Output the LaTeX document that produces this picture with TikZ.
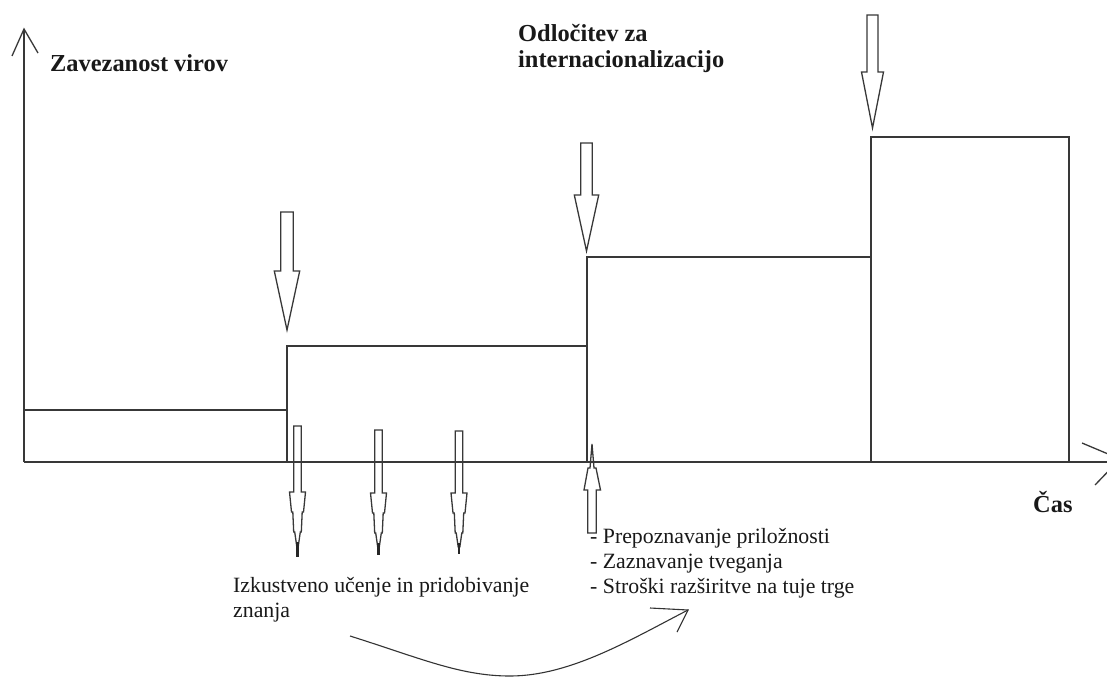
\documentclass[tikz,border=0pt]{standalone}
\usepackage{fontspec}
\setmainfont{Liberation Serif}
% small down arrow with a stepped, tapering head: centre, shaft top, head base, tip
\newcommand\smalldownarrow[4]{%
  \draw[ln] (#1-3.7,#2) -- (#1+3.7,#2) -- (#1+3.7,#3) -- (#1+8,#3)
    -- (#1+6,#3+20) -- (#1+4.7,#3+20) -- (#1+3.8,#3+40) -- (#1+2.8,#3+40)
    -- (#1+0.8,#3+54) -- (#1-0.8,#3+54)
    -- (#1-2.8,#3+40) -- (#1-3.8,#3+40) -- (#1-4.7,#3+20) -- (#1-6,#3+20)
    -- (#1-8,#3) -- (#1-3.7,#3) -- cycle;
  \draw[black!85,line width=2.2pt] (#1,#3+50) -- (#1,#4);}
% large block arrow pointing down: centre, shaft half width, head half width, shaft top, head base, tip
\newcommand\bigdownarrow[6]{%
  \draw[ln] (#1-#2,#4) -- (#1+#2,#4) -- (#1+#2,#5) -- (#1+#3,#5) -- (#1,#6)
    -- (#1-#3,#5) -- (#1-#2,#5) -- cycle;}
\begin{document}
\begin{tikzpicture}[x=1pt,y=-1pt,
  ln/.style={draw=black!78,line width=1.3pt,line join=miter},
  thin/.style={draw=black!80,line width=1.1pt},
  hd/.style={font=\bfseries\fontsize{24.4}{26}\selectfont,text=black!90,inner sep=0pt,anchor=base west,align=left},
  tx/.style={font=\fontsize{21.8}{24.5}\selectfont,text=black!90,inner sep=0pt,anchor=base west,align=left},
]
\clip (0,0) rectangle (1107,677);
\fill[white] (0,0) rectangle (1107,677);

% axes
\coordinate (origin) at (24,462);
\coordinate (ytop) at (24,29);
\coordinate (xend) at (1120,459);
\draw[ln] (origin) -- (ytop);
\draw[ln] (12,56) -- (ytop) -- (38,53);
\draw[ln] (origin) -- (1107,462);
\draw[ln] (1082,443) -- (xend) -- (1095,485);

% resource commitment steps
\draw[ln] (24,410) -- (287,410) -- (287,462);
\draw[ln] (287,462) -- (287,346) -- (587,346);
\draw[ln] (587,462) -- (587,257) -- (871,257);
\draw[ln] (871,462) -- (871,137) -- (1069,137) -- (1069,462);

% large arrows above the steps
\bigdownarrow{287}{6.3}{12.7}{212}{271}{330}
\bigdownarrow{586.5}{5.8}{12.2}{143}{195}{251}
\bigdownarrow{872.5}{5.5}{11}{15}{72}{128}

% learning arrows below the axis
\smalldownarrow{297.5}{426}{492}{557}
\smalldownarrow{378.5}{430}{493}{555}
\smalldownarrow{459}{431}{493}{554}

% upward arrow at the decision point
\draw[ln] (587.8,533) -- (596.2,533) -- (596.2,490) -- (600.5,490) -- (596,468)
  -- (594,468) -- (592,444) -- (590,468) -- (588,468) -- (584,490) -- (587.8,490) -- cycle;

% labels (multi-line nodes are anchored at the baseline of their last line)
\node[hd] (yl) at (50,71) {Zavezanost virov};
\node[hd] (dec) at (518,67) {Odločitev za\\internacionalizacijo};
\node[hd] (xl) at (1033,512) {Čas};
\node[tx] (learn) at (233,617) {Izkustveno učenje in pridobivanje\\znanja};
\node[tx,font=\fontsize{21.8}{25}\selectfont] (list) at (590,593) {- Prepoznavanje priložnosti\\- Zaznavanje tveganja\\- Stroški razširitve na tuje trge};

% curved arrow from learning to the list
\coordinate (cs) at (350,636);
\coordinate (ce) at (688,610);
\draw[thin] (cs) .. controls (420,658) and (460,676) .. (510,676)
  .. controls (570,676) and (630,640) .. (ce);
\draw[thin] (650,608) -- (ce) -- (677,632);
\end{tikzpicture}
\end{document}
